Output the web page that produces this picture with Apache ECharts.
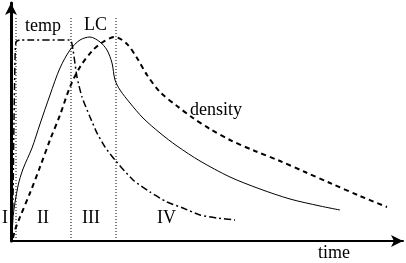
<!DOCTYPE html>
<html><head><meta charset="utf-8">
<script src="https://cdn.jsdelivr.net/npm/echarts@6/dist/echarts.min.js"></script>
<style>html,body{margin:0;padding:0;background:#fff}#c{width:406px;height:263px}</style>
</head><body><div id="c"></div>
<script>
// values in arbitrary chart units (time, magnitude)
const lcX      = [1, 2, 7, 12, 21, 29, 39, 49, 59, 69, 79, 89, 96, 101, 104, 109, 119, 132, 149, 166, 189, 219, 249, 279, 309, 329];
const lcY      = [1, 24, 55, 72, 93, 117, 146, 173, 191, 201, 204, 199, 191, 178, 161, 151, 138, 123, 108, 95, 80, 64, 52, 42, 35, 31];
const densX    = [2, 4, 9, 19, 29, 39, 49, 59, 69, 82, 92, 104, 116, 126, 136, 149, 166, 182, 199, 219, 244, 269, 294, 319, 349, 376];
const densY    = [3, 11, 24, 48, 74, 101, 126, 154, 174, 191, 199, 204, 197, 183, 166, 149, 135, 123, 112, 101, 90, 80, 69, 58, 45, 34];
const tempX    = [1, 2, 3, 4, 5, 9, 59, 62, 66, 71, 79, 86, 94, 104, 122, 139, 156, 172, 189, 206, 224];
const tempY    = [1, 41, 121, 181, 199, 201, 201, 191, 164, 144, 124, 108, 94, 81, 61, 49, 39, 33, 26, 23, 21];
const phaseX   = [5, 60, 105];
const phaseTop = 224;
const phaseLabels = ['I', 'II', 'III', 'IV'];

const zip = (a, b) => a.map((v, i) => [v, b[i]]);
const font = '"Liberation Serif","DejaVu Serif",serif';
const txt = (t, x, y) => ({type:'text', left:x, top:y, style:{text:t, fill:'#000', font:'18px ' + font}});

const phaseSeries = phaseX.map(x => ({
  type:'line', data:[[x,0],[x,phaseTop]], symbol:'none', silent:true,
  lineStyle:{color:'#000', width:1, type:[1,2]}
}));

const chart = echarts.init(document.getElementById('c'));
chart.setOption({
  animation:false,
  grid:{left:11, right:3, top:3, bottom:22},
  xAxis:{type:'value', min:0, max:392, splitLine:{show:false}, axisTick:{show:false}, axisLabel:{show:false},
    axisLine:{lineStyle:{color:'#000', width:2}, symbol:['none','arrow'], symbolSize:[9,12]}},
  yAxis:{type:'value', min:0, max:238, splitLine:{show:false}, axisTick:{show:false}, axisLabel:{show:false},
    axisLine:{lineStyle:{color:'#000', width:3}, symbol:['none','arrow'], symbolSize:[9,12]}},
  series:[
    ...phaseSeries,
    {type:'line', data:zip(lcX, lcY), symbol:'none', smooth:0.3, lineStyle:{color:'#000', width:1}},
    {type:'line', data:zip(densX, densY), symbol:'none', smooth:0.3, lineStyle:{color:'#000', width:2, type:[5,4]}},
    {type:'line', data:zip(tempX, tempY), symbol:'none', smooth:0.2, lineStyle:{color:'#000', width:1.5, type:[7,3,2,3]}}
  ],
  graphic:[
    txt('temp', 25, 17),
    txt('LC', 84, 16),
    txt('density', 190, 101),
    txt('time', 318, 244),
    txt(phaseLabels[0], 2, 209),
    txt(phaseLabels[1], 37, 209),
    txt(phaseLabels[2], 82, 209),
    txt(phaseLabels[3], 157, 209)
  ]
});
</script></body></html>
